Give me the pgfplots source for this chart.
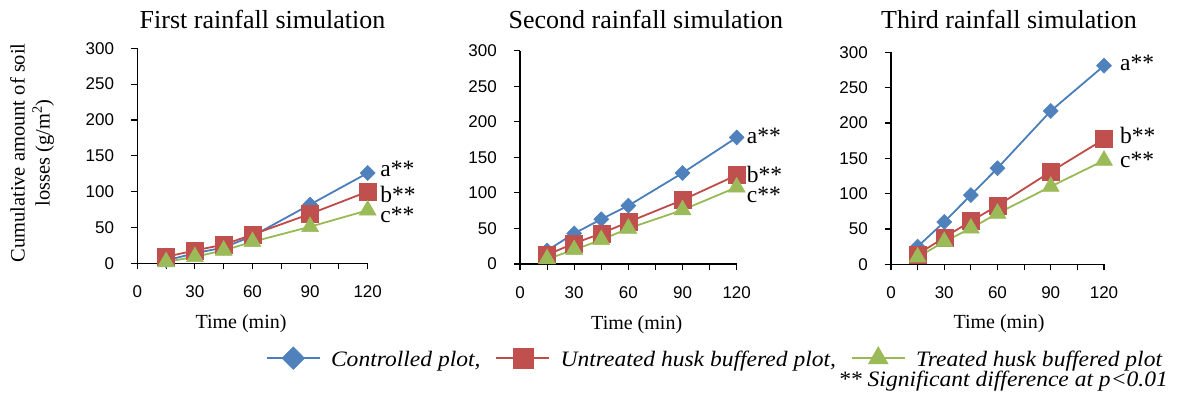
\documentclass[border=0pt]{standalone}
\usepackage{pgfplots}
\pgfplotsset{compat=1.18}
\usepackage{fontspec}
\setmainfont{Liberation Serif}
\setsansfont{Liberation Sans}
\newfontfamily\legfam{Liberation Serif}[FakeStretch=1.07]
\definecolor{cBl}{HTML}{4A7EBB}
\definecolor{cBf}{HTML}{4F81BD}
\definecolor{cRl}{HTML}{BE4B48}
\definecolor{cRf}{HTML}{C0504D}
\definecolor{cGl}{HTML}{98B954}
\definecolor{cGf}{HTML}{9BBB59}
\newcommand\legfont{\legfam\fontsize{22}{24}\selectfont\itshape}
\newcommand\annfont{\fontsize{23.5}{24}\selectfont}
\tikzset{ann/.style={anchor=base west, inner sep=0pt, font=\annfont}}
\pgfplotsset{
  panel/.style={
    scale only axis, anchor=south west,
    xmin=0, xmax=120, ymin=0, ymax=300,
    axis x line*=bottom, axis y line*=left,
    xtick={0,30,60,90,120}, minor xtick={15,45,75,105},
    ytick={0,50,...,300},
    tick align=outside, major tick length=6pt, minor tick length=6pt,
    every tick/.style={black, line width=1.1pt},
    axis line style={black, line width=1.3pt},
    ticklabel style={font=\sffamily\fontsize{17}{17}\selectfont},
    /pgf/number format/assume math mode=true,
    yticklabel style={inner sep=0pt, xshift=-17pt},
    xticklabel style={inner sep=0pt, yshift=-16pt},
    clip=false,
  },
  sA/.style={color=cBl, line width=1.8pt, mark=diamond*, mark size=7.5pt,
    mark options={fill=cBf, draw=cBf, line width=0.5pt, xscale=1.333}},
  sB/.style={color=cRl, line width=1.8pt, mark=square*, mark size=8.5pt,
    mark options={fill=cRf, draw=cRf, line width=0.5pt}},
  sC/.style={color=cGl, line width=1.8pt, mark=triangle*, mark size=9.8pt,
    mark options={fill=cGf, draw=cGf, line width=0.5pt}},
}
\begin{document}
\begin{tikzpicture}
\path[use as bounding box] (0pt,0pt) rectangle (1179pt,-398pt);

% ---------- Panel 1 ----------
\begin{axis}[panel, at={(137.3pt,-263.3pt)}, width=230.4pt, height=215pt]
\addplot[sA] coordinates {(15,4) (30,14) (45,22) (60,38) (90,82) (120,126)};
\addplot[sB] coordinates {(15,9) (30,18) (45,26) (60,40) (90,69) (120,100)};
\addplot[sC] coordinates {(15,2) (30,9) (45,18) (60,30) (90,51) (120,74)};
\node[ann, xshift=12.5pt] at (axis cs:120,121) {a**};
\node[ann, xshift=12.5pt] at (axis cs:120,85) {b**};
\node[ann, xshift=12.5pt] at (axis cs:120,56.5) {c**};
\end{axis}

% ---------- Panel 2 ----------
\begin{axis}[panel, at={(520pt,-264pt)}, width=216.7pt, height=213.3pt]
\addplot[sA] coordinates {(15,19) (30,43) (45,63) (60,82) (90,128) (120,178)};
\addplot[sB] coordinates {(15,13) (30,29) (45,43) (60,59) (90,90) (120,125)};
\addplot[sC] coordinates {(15,7) (30,20) (45,34) (60,50) (90,76) (120,108)};
\node[ann, xshift=10pt] at (axis cs:120,170) {a**};
\node[ann, xshift=10pt] at (axis cs:120,115) {b**};
\node[ann, xshift=10pt] at (axis cs:120,87) {c**};
\end{axis}

% ---------- Panel 3 ----------
\begin{axis}[panel, at={(891pt,-264.3pt)}, width=213pt, height=212pt,
  legend columns=3,
  legend image code/.code={\draw[mark repeat=2,mark phase=2] plot coordinates {(0pt,8.7pt) (26.5pt,8.7pt) (53pt,8.7pt)};},
  legend style={at={(axis description cs:-2.935,-0.3877)}, anchor=north west,
    draw=none, fill=none, inner sep=0pt, font=\legfont,
    nodes={inner sep=0pt, anchor=base west},
    /tikz/every odd column/.append style={column sep=10.5pt},
    /tikz/every even column/.append style={column sep=15pt}},
]
\addplot[sA, forget plot] coordinates {(15,25) (30,60) (45,98) (60,136) (90,217) (120,281)};
\addplot[sB, forget plot] coordinates {(15,14) (30,38) (45,61) (60,83) (90,131) (120,177)};
\addplot[sC, forget plot] coordinates {(15,10) (30,32) (45,51) (60,72) (90,110) (120,147)};
\addlegendimage{color=cBl, line width=1.5pt, mark=diamond*, mark size=11.3pt,
    mark options={fill=cBf, draw=cBf, xscale=1.333, line width=0.5pt}}
\addlegendentry{Controlled plot,}
\addlegendimage{color=cRl, line width=1.5pt, mark=square*, mark size=10pt,
    mark options={fill=cRf, draw=cRf, line width=0.5pt}}
\addlegendentry{Untreated husk buffered plot,}
\addlegendimage{color=cGl, line width=1.5pt, mark=triangle*, mark size=11.5pt,
    mark options={fill=cGf, draw=cGf, line width=0.5pt}}
\addlegendentry{Treated husk buffered plot}
\node[ann, xshift=16pt] at (axis cs:120,274.4) {a**};
\node[ann, xshift=16pt] at (axis cs:120,170.4) {b**};
\node[ann, xshift=16pt] at (axis cs:120,136.4) {c**};
\end{axis}

% ---------- titles and labels ----------
\node[anchor=base, inner sep=0pt, font=\fontsize{26}{26}\selectfont] at (262.5pt,-28.5pt) {First rainfall simulation};
\node[anchor=base, inner sep=0pt, font=\fontsize{26}{26}\selectfont] at (645.8pt,-28.5pt) {Second rainfall simulation};
\node[anchor=base, inner sep=0pt, font=\fontsize{26}{26}\selectfont] at (1009pt,-28.5pt) {Third rainfall simulation};
\node[anchor=base, inner sep=0pt, font=\fontsize{20}{20}\selectfont] at (241pt,-328.5pt) {Time (min)};
\node[anchor=base, inner sep=0pt, font=\fontsize{20}{20}\selectfont] at (636.7pt,-329.5pt) {Time (min)};
\node[anchor=base, inner sep=0pt, font=\fontsize{20}{20}\selectfont] at (999pt,-328.5pt) {Time (min)};
\node[rotate=90, align=center, inner sep=0pt, font=\fontsize{20.5}{25}\selectfont] at (32pt,-153pt) {Cumulative amount of soil\\losses (g/m\textsuperscript{2})};
\node[anchor=base east, inner sep=0pt, font=\legfont] at (1168pt,-386pt) {** Significant difference at p<0.01};
\end{tikzpicture}
\end{document}
